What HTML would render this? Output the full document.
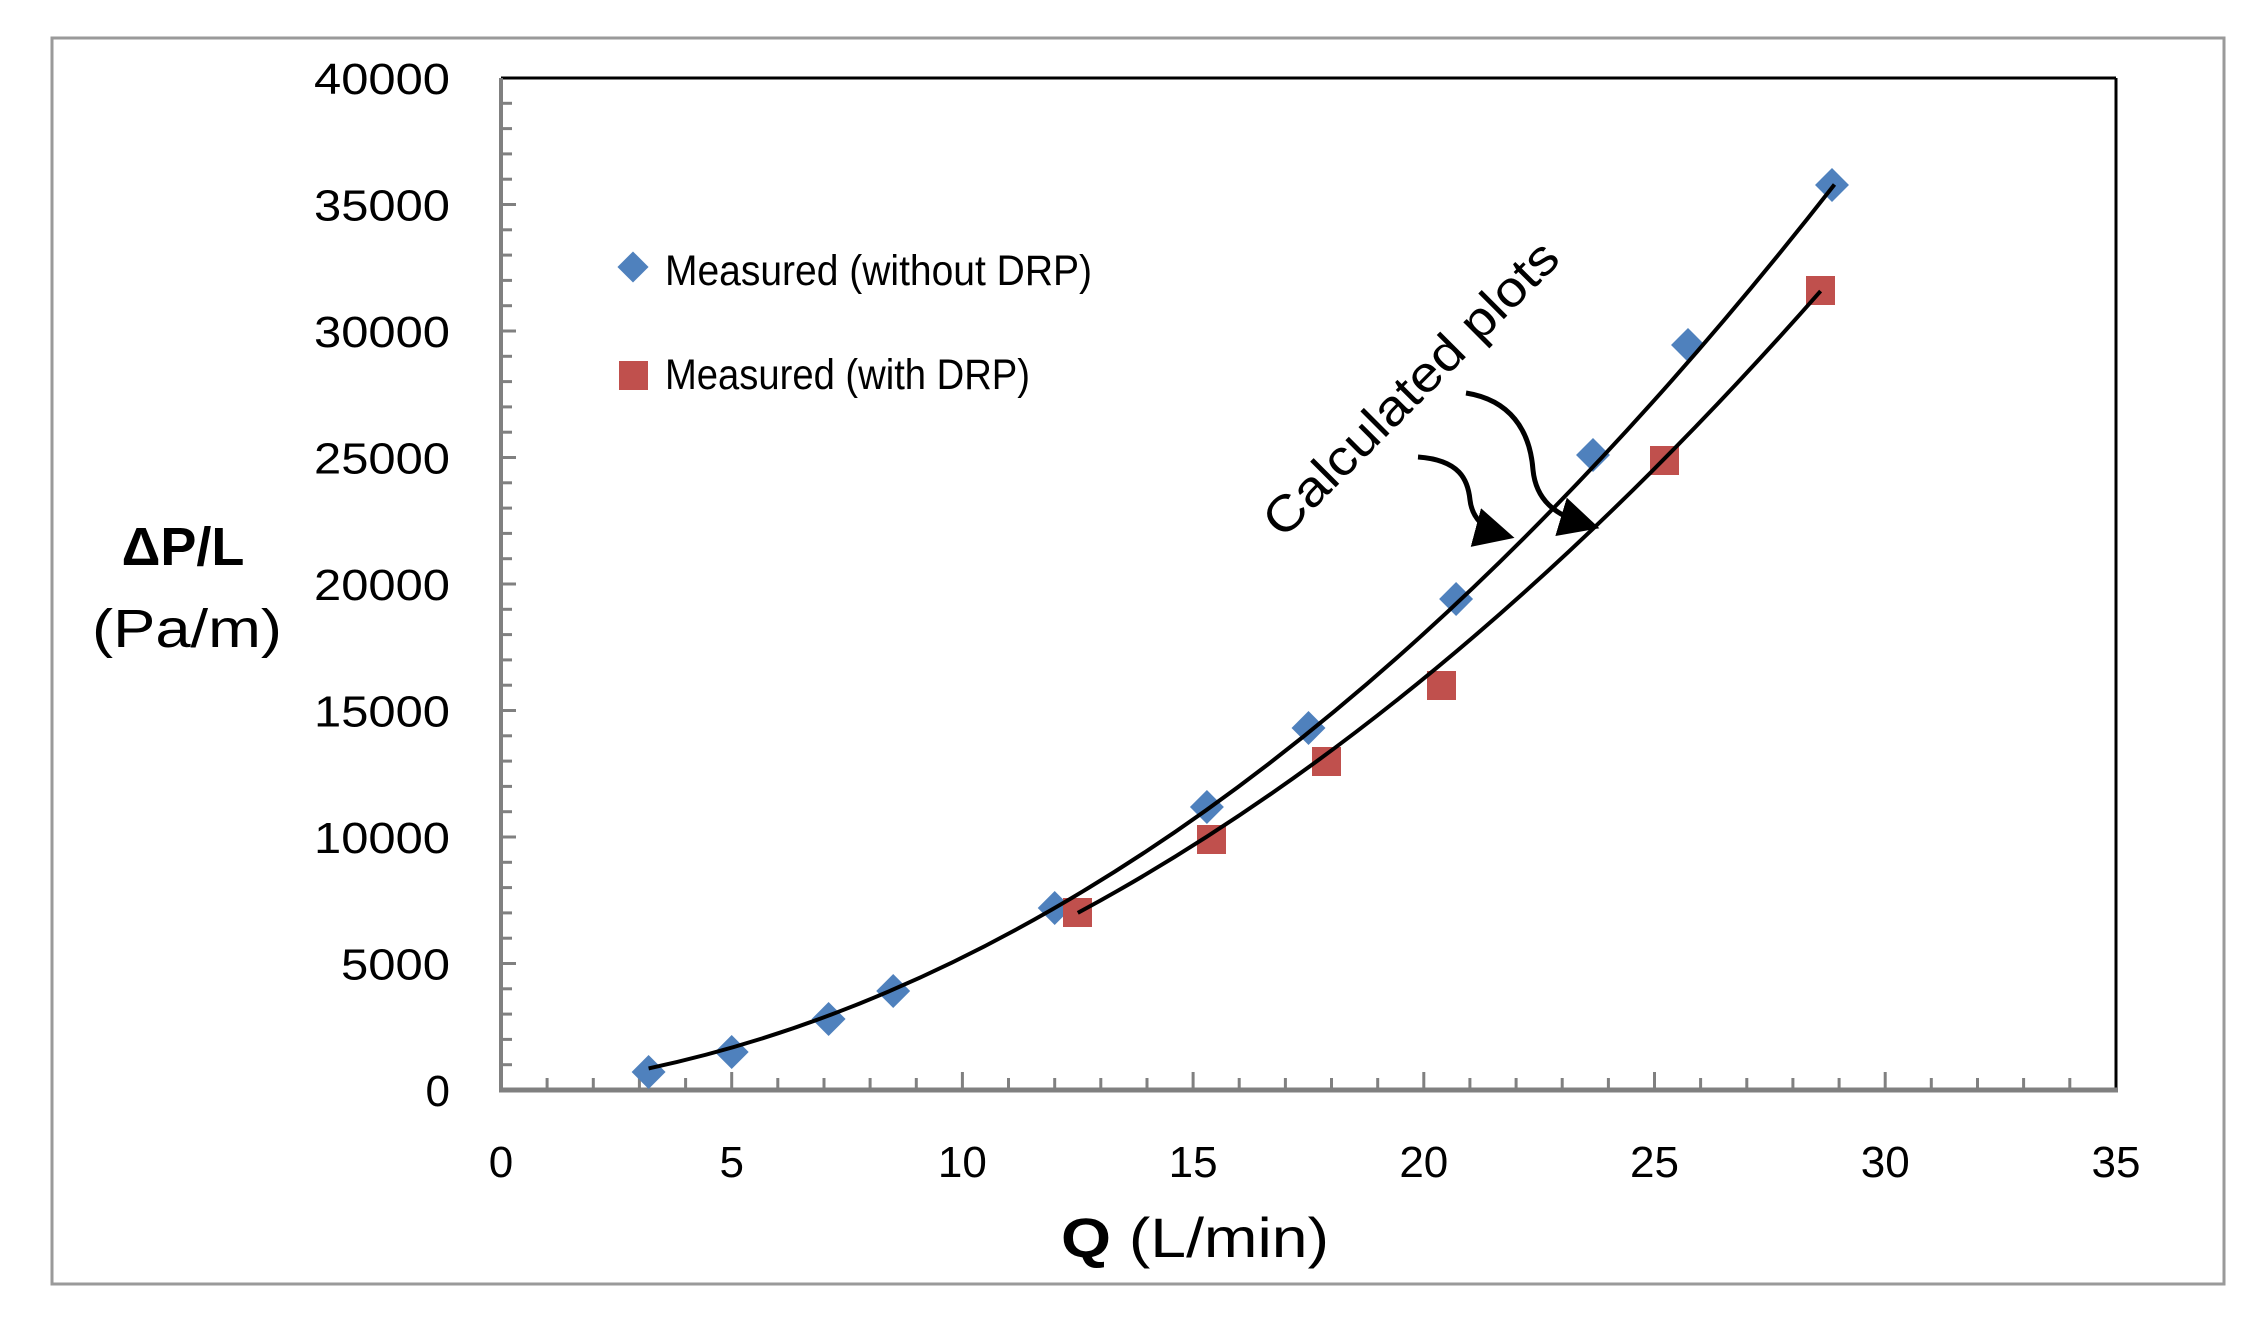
<!DOCTYPE html>
<html><head><meta charset="utf-8"><style>
html,body{margin:0;padding:0;background:#fff;}
svg{display:block;}
text{font-family:"Liberation Sans",sans-serif;fill:#000;}
</style></head><body>
<svg width="2253" height="1325" viewBox="0 0 2253 1325" xmlns="http://www.w3.org/2000/svg">
<defs>
<marker id="ah" markerWidth="8" markerHeight="8" refX="5" refY="4" orient="auto" markerUnits="strokeWidth">
<path d="M0,0 L8,4 L0,8 Z" fill="#000"/>
</marker>
</defs>
<rect x="52" y="38" width="2172" height="1246" fill="#fff" stroke="#9a9a9a" stroke-width="3"/>
<!-- plot frame -->
<line x1="501" y1="78" x2="2116" y2="78" stroke="#000" stroke-width="3"/>
<line x1="2116" y1="78" x2="2116" y2="1090" stroke="#000" stroke-width="3"/>
<line x1="501" y1="78" x2="501" y2="1092" stroke="#808080" stroke-width="4"/>
<line x1="499" y1="1090" x2="2118" y2="1090" stroke="#808080" stroke-width="5"/>
<!-- y ticks -->
<g stroke="#808080" stroke-width="3">
<line x1="501" y1="103.3" x2="512" y2="103.3"/><line x1="501" y1="128.6" x2="512" y2="128.6"/><line x1="501" y1="153.9" x2="512" y2="153.9"/><line x1="501" y1="179.2" x2="512" y2="179.2"/><line x1="501" y1="204.5" x2="516" y2="204.5"/>
<line x1="501" y1="229.8" x2="512" y2="229.8"/><line x1="501" y1="255.1" x2="512" y2="255.1"/><line x1="501" y1="280.4" x2="512" y2="280.4"/><line x1="501" y1="305.7" x2="512" y2="305.7"/><line x1="501" y1="331" x2="516" y2="331"/>
<line x1="501" y1="356.3" x2="512" y2="356.3"/><line x1="501" y1="381.6" x2="512" y2="381.6"/><line x1="501" y1="406.9" x2="512" y2="406.9"/><line x1="501" y1="432.2" x2="512" y2="432.2"/><line x1="501" y1="457.5" x2="516" y2="457.5"/>
<line x1="501" y1="482.8" x2="512" y2="482.8"/><line x1="501" y1="508.1" x2="512" y2="508.1"/><line x1="501" y1="533.4" x2="512" y2="533.4"/><line x1="501" y1="558.7" x2="512" y2="558.7"/><line x1="501" y1="584" x2="516" y2="584"/>
<line x1="501" y1="609.3" x2="512" y2="609.3"/><line x1="501" y1="634.6" x2="512" y2="634.6"/><line x1="501" y1="659.9" x2="512" y2="659.9"/><line x1="501" y1="685.2" x2="512" y2="685.2"/><line x1="501" y1="710.5" x2="516" y2="710.5"/>
<line x1="501" y1="735.8" x2="512" y2="735.8"/><line x1="501" y1="761.1" x2="512" y2="761.1"/><line x1="501" y1="786.4" x2="512" y2="786.4"/><line x1="501" y1="811.7" x2="512" y2="811.7"/><line x1="501" y1="837" x2="516" y2="837"/>
<line x1="501" y1="862.3" x2="512" y2="862.3"/><line x1="501" y1="887.6" x2="512" y2="887.6"/><line x1="501" y1="912.9" x2="512" y2="912.9"/><line x1="501" y1="938.2" x2="512" y2="938.2"/><line x1="501" y1="963.5" x2="516" y2="963.5"/>
<line x1="501" y1="988.8" x2="512" y2="988.8"/><line x1="501" y1="1014.1" x2="512" y2="1014.1"/><line x1="501" y1="1039.4" x2="512" y2="1039.4"/><line x1="501" y1="1064.7" x2="512" y2="1064.7"/>
</g>
<!-- x ticks -->
<g stroke="#808080" stroke-width="3">
<line x1="547.1" y1="1090" x2="547.1" y2="1078"/><line x1="593.3" y1="1090" x2="593.3" y2="1078"/><line x1="639.4" y1="1090" x2="639.4" y2="1078"/><line x1="685.6" y1="1090" x2="685.6" y2="1078"/><line x1="731.7" y1="1090" x2="731.7" y2="1072"/>
<line x1="777.8" y1="1090" x2="777.8" y2="1078"/><line x1="824" y1="1090" x2="824" y2="1078"/><line x1="870.1" y1="1090" x2="870.1" y2="1078"/><line x1="916.3" y1="1090" x2="916.3" y2="1078"/><line x1="962.4" y1="1090" x2="962.4" y2="1072"/>
<line x1="1008.5" y1="1090" x2="1008.5" y2="1078"/><line x1="1054.7" y1="1090" x2="1054.7" y2="1078"/><line x1="1100.8" y1="1090" x2="1100.8" y2="1078"/><line x1="1147" y1="1090" x2="1147" y2="1078"/><line x1="1193.1" y1="1090" x2="1193.1" y2="1072"/>
<line x1="1239.2" y1="1090" x2="1239.2" y2="1078"/><line x1="1285.4" y1="1090" x2="1285.4" y2="1078"/><line x1="1331.5" y1="1090" x2="1331.5" y2="1078"/><line x1="1377.7" y1="1090" x2="1377.7" y2="1078"/><line x1="1423.8" y1="1090" x2="1423.8" y2="1072"/>
<line x1="1469.9" y1="1090" x2="1469.9" y2="1078"/><line x1="1516.1" y1="1090" x2="1516.1" y2="1078"/><line x1="1562.2" y1="1090" x2="1562.2" y2="1078"/><line x1="1608.4" y1="1090" x2="1608.4" y2="1078"/><line x1="1654.5" y1="1090" x2="1654.5" y2="1072"/>
<line x1="1700.6" y1="1090" x2="1700.6" y2="1078"/><line x1="1746.8" y1="1090" x2="1746.8" y2="1078"/><line x1="1792.9" y1="1090" x2="1792.9" y2="1078"/><line x1="1839.1" y1="1090" x2="1839.1" y2="1078"/><line x1="1885.2" y1="1090" x2="1885.2" y2="1072"/>
<line x1="1931.3" y1="1090" x2="1931.3" y2="1078"/><line x1="1977.5" y1="1090" x2="1977.5" y2="1078"/><line x1="2023.6" y1="1090" x2="2023.6" y2="1078"/><line x1="2069.8" y1="1090" x2="2069.8" y2="1078"/>
</g>
<!-- y labels -->
<g font-size="44" text-anchor="end">
<text x="450" y="94" textLength="136" lengthAdjust="spacingAndGlyphs">40000</text>
<text x="450" y="220.5" textLength="136" lengthAdjust="spacingAndGlyphs">35000</text>
<text x="450" y="347" textLength="136" lengthAdjust="spacingAndGlyphs">30000</text>
<text x="450" y="473.5" textLength="136" lengthAdjust="spacingAndGlyphs">25000</text>
<text x="450" y="600" textLength="136" lengthAdjust="spacingAndGlyphs">20000</text>
<text x="450" y="726.5" textLength="136" lengthAdjust="spacingAndGlyphs">15000</text>
<text x="450" y="853" textLength="136" lengthAdjust="spacingAndGlyphs">10000</text>
<text x="450" y="979.5" textLength="109" lengthAdjust="spacingAndGlyphs">5000</text>
<text x="450" y="1106">0</text>
</g>
<!-- x labels -->
<g font-size="44" text-anchor="middle">
<text x="501" y="1177">0</text>
<text x="731.7" y="1177">5</text>
<text x="962.4" y="1177">10</text>
<text x="1193.1" y="1177">15</text>
<text x="1423.8" y="1177">20</text>
<text x="1654.5" y="1177">25</text>
<text x="1885.2" y="1177">30</text>
<text x="2116" y="1177">35</text>
</g>
<!-- axis titles -->
<text x="183" y="565" font-size="54" font-weight="bold" text-anchor="middle">ΔP/L</text>
<text x="187" y="647" font-size="54" text-anchor="middle" textLength="190" lengthAdjust="spacingAndGlyphs">(Pa/m)</text>
<text x="1061" y="1257" font-size="56" textLength="268" lengthAdjust="spacingAndGlyphs"><tspan font-weight="bold">Q</tspan> (L/min)</text>
<!-- legend -->
<rect x="622" y="256" width="22" height="22" fill="#4f81bd" transform="rotate(45 633 267)"/>
<text x="665" y="285" font-size="43" textLength="427" lengthAdjust="spacingAndGlyphs">Measured (without DRP)</text>
<rect x="619" y="361" width="29" height="29" fill="#c0504d"/>
<text x="665" y="389" font-size="43" textLength="365" lengthAdjust="spacingAndGlyphs">Measured (with DRP)</text>
<!-- blue markers -->
<g fill="#4f81bd">
<rect x="-12" y="-12" width="24" height="24" transform="translate(648.6 1072) rotate(45)"/>
<rect x="-12" y="-12" width="24" height="24" transform="translate(731.7 1052) rotate(45)"/>
<rect x="-12" y="-12" width="24" height="24" transform="translate(828.6 1019) rotate(45)"/>
<rect x="-12" y="-12" width="24" height="24" transform="translate(893.2 991) rotate(45)"/>
<rect x="-12" y="-12" width="24" height="24" transform="translate(1054.7 908) rotate(45)"/>
<rect x="-12" y="-12" width="24" height="24" transform="translate(1206.9 807) rotate(45)"/>
<rect x="-12" y="-12" width="24" height="24" transform="translate(1308.5 728) rotate(45)"/>
<rect x="-12" y="-12" width="24" height="24" transform="translate(1456.1 599) rotate(45)"/>
<rect x="-12" y="-12" width="24" height="24" transform="translate(1593 455) rotate(45)"/>
<rect x="-12" y="-12" width="24" height="24" transform="translate(1688 345) rotate(45)"/>
<rect x="-12" y="-12" width="24" height="24" transform="translate(1832 185) rotate(45)"/>
</g>
<!-- red markers -->
<g fill="#c0504d">
<rect x="1063" y="898" width="29" height="29"/>
<rect x="1197" y="825" width="29" height="29"/>
<rect x="1312" y="747" width="29" height="29"/>
<rect x="1427" y="671" width="29" height="29"/>
<rect x="1650" y="446" width="29" height="29"/>
<rect x="1806" y="276" width="29" height="29"/>
</g>
<!-- curves -->
<path d="M648.6,1068.4 Q1241.6,942.3 1834.5,184.5" fill="none" stroke="#000" stroke-width="4"/>
<path d="M1077.8,912.9 Q1449.2,712.9 1820.6,291.1" fill="none" stroke="#000" stroke-width="4"/>
<!-- annotation -->
<text x="1283" y="540" font-size="50" transform="rotate(-45 1283 540)" textLength="395" lengthAdjust="spacingAndGlyphs">Calculated plots</text>
<path d="M1418,457 C1460,460 1468,480 1470,500 C1472,518 1485,530 1500,534" fill="none" stroke="#000" stroke-width="5" marker-end="url(#ah)"/>
<path d="M1466,393 C1510,400 1530,430 1533,470 C1536,500 1555,515 1585,524" fill="none" stroke="#000" stroke-width="5" marker-end="url(#ah)"/>
</svg>
</body></html>
